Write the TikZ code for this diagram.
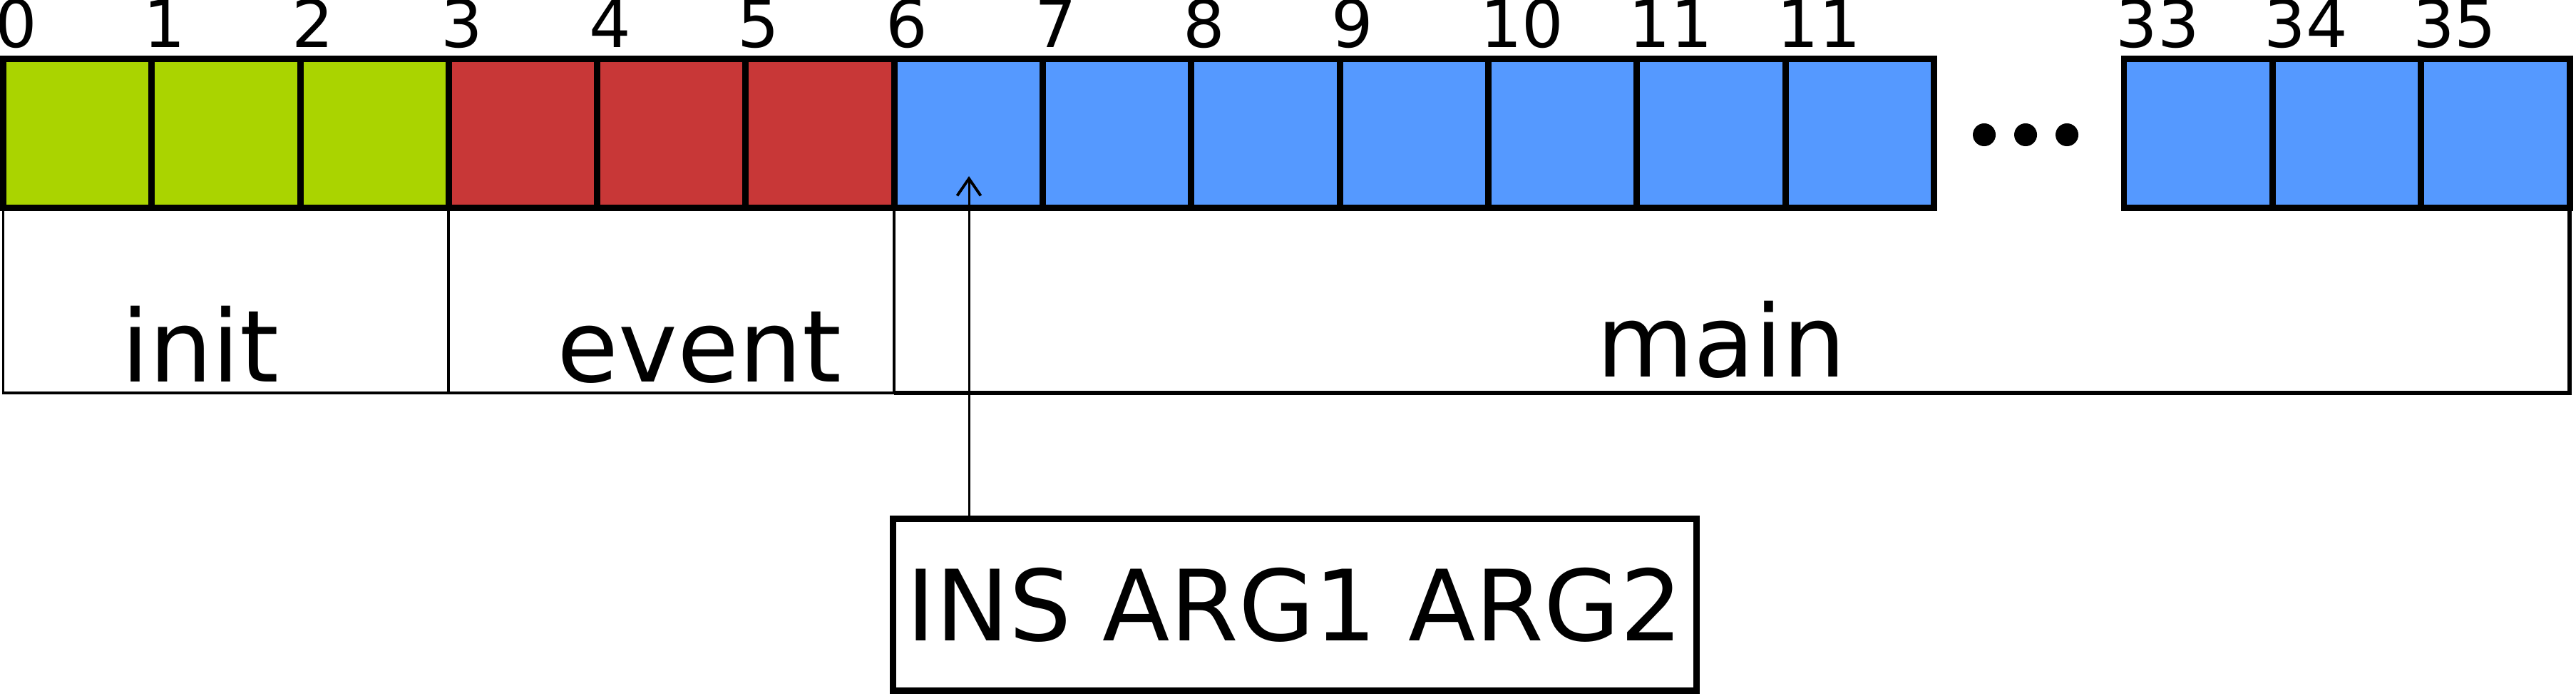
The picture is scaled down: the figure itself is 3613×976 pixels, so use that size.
\documentclass[tikz,border=0pt]{standalone}
\usepackage{fontspec}
\setmainfont{DejaVu Sans}
\usetikzlibrary{arrows.meta}
\begin{document}
\begin{tikzpicture}[x=0.01cm, y=-0.01cm,
    cell/.style={draw=borderColour, line width=2.55pt, minimum width=2.083cm,
        minimum height=2.08cm, inner sep=0pt, outer sep=0pt},
    idx/.style={anchor=base west, inner sep=0pt, font=\fontsize{26.2pt}{30pt}\selectfont},
    seglabel/.style={anchor=base, inner sep=0pt, font=\fontsize{39.8pt}{46pt}\selectfont},
    segline/.style={draw=borderColour, line width=1.1pt},
    mainline/.style={draw=borderColour, line width=1.7pt},
    insbox/.style={draw=borderColour, line width=2.55pt, minimum width=11.27cm,
        minimum height=2.40cm, inner sep=0pt, font=\fontsize{39.2pt}{46pt}\selectfont},
    pointer/.style={draw=borderColour, line width=0.85pt,
        -{Straight Barb[length=0.24cm, width=0.33cm, line width=1.1pt]}}]
    \definecolor{borderColour}{HTML}{000000}
    \definecolor{fillInit}{HTML}{AAD400}
    \definecolor{fillEvent}{HTML}{C83737}
    \definecolor{fillMain}{HTML}{5599FF}

    \def\cellW{208.3}
    \def\cellX{4.5}
    \def\tailX{2979}
    \def\cellY{187}

    \useasboundingbox (0,0) rectangle (3613,976);

    % Memory cells 0 to 11
    \foreach \i/\lbl/\col in {0/0/fillInit, 1/1/fillInit, 2/2/fillInit,
        3/3/fillEvent, 4/4/fillEvent, 5/5/fillEvent,
        6/6/fillMain, 7/7/fillMain, 8/8/fillMain, 9/9/fillMain,
        10/10/fillMain, 11/11/fillMain, 12/11/fillMain}
    {
        \node[cell, fill=\col] (c\i) at ({\cellX+\cellW*(\i+0.5)},\cellY) {};
        \node[idx] (l\i) at ([xshift=-0.12cm, yshift=0.16cm]c\i.north west) {\lbl};
    }

    % Last cells 33 to 35
    \foreach \j/\lbl in {0/33, 1/34, 2/35}
    {
        \node[cell, fill=fillMain] (d\j) at ({\tailX+\cellW*(\j+0.5)},\cellY) {};
        \node[idx] (m\j) at ([xshift=-0.12cm, yshift=0.16cm]d\j.north west) {\lbl};
    }

    % Dots between the two groups
    \foreach \x in {2783,2841,2899}
        \fill[borderColour] (\x,189) circle (0.16cm);

    % Segment boxes, main open at the top
    \coordinate (segbase) at (0,551);
    \draw[segline] (c0.south west) -- (c0.south west |- segbase) -- (c2.south east |- segbase) -- (c2.south east);
    \draw[segline] (c3.south west) -- (c3.south west |- segbase) -- (c5.south east |- segbase) -- (c5.south east);
    \draw[segline] (c6.south west) -- (c6.south west |- segbase);
    \draw[mainline] (c6.south west |- segbase) -- (d2.south east |- segbase) -- (d2.south east);

    \node[seglabel] (init) at (281,535) {init};
    \node[seglabel] (event) at (981,535) {event};
    \node[seglabel] (main) at (2414,528) {main};

    % Instruction format
    \node[insbox] (ins) at (1816,848) {INS ARG1 ARG2};
    \coordinate (tip) at (1359,247);
    \draw[pointer] (ins.north -| tip) -- (tip);

\end{tikzpicture}
\end{document}
